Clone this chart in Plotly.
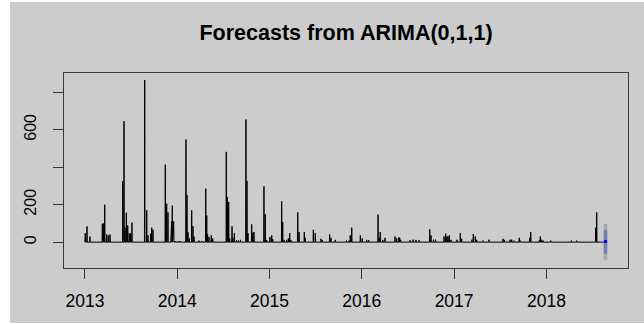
import plotly.graph_objects as go

# Daily series (decimal years); days not listed are zero.
series_start = 2013.0
series_end = 2018.632
obs_time = [
    2013.004, 2013.023, 2013.055,
    2013.189, 2013.199, 2013.215, 2013.236, 2013.254, 2013.272,
    2013.410, 2013.424, 2013.435, 2013.449, 2013.464, 2013.481, 2013.496, 2013.510,
    2013.648, 2013.670, 2013.684, 2013.713, 2013.724, 2013.738,
    2013.871, 2013.886, 2013.900, 2013.933, 2013.940, 2013.947, 2013.954, 2013.962,
    2013.982, 2014.009, 2014.030,
    2014.095, 2014.106, 2014.117, 2014.131, 2014.157, 2014.171, 2014.182, 2014.236, 2014.269,
    2014.309, 2014.320, 2014.330, 2014.345, 2014.369, 2014.385,
    2014.532, 2014.543, 2014.558, 2014.569, 2014.594, 2014.605, 2014.619, 2014.642, 2014.664, 2014.686,
    2014.745, 2014.756, 2014.767, 2014.807, 2014.818, 2014.832,
    2014.940, 2014.954, 2014.970, 2015.005, 2015.024, 2015.035,
    2015.132, 2015.143, 2015.157, 2015.186, 2015.204, 2015.219, 2015.233,
    2015.306, 2015.320, 2015.377, 2015.388, 2015.475, 2015.496, 2015.558, 2015.572,
    2015.652, 2015.666, 2015.713, 2015.834, 2015.861, 2015.875, 2015.891,
    2015.984, 2016.005, 2016.053, 2016.075,
    2016.176, 2016.190, 2016.200, 2016.227, 2016.251,
    2016.360, 2016.378, 2016.400, 2016.411, 2016.421,
    2016.522, 2016.555, 2016.587, 2016.620,
    2016.736, 2016.750, 2016.777, 2016.799,
    2016.891, 2016.909, 2016.923, 2016.934, 2016.948, 2016.966,
    2017.031, 2017.067, 2017.082, 2017.194, 2017.208, 2017.230, 2017.245,
    2017.313, 2017.378, 2017.530, 2017.546, 2017.606, 2017.624, 2017.649,
    2017.706, 2017.717, 2017.819, 2017.830, 2017.923, 2017.934, 2017.949, 2017.966,
    2018.047, 2018.270, 2018.328, 2018.534, 2018.545,
]
obs_value = [
    48, 84, 30,
    98, 100, 200, 41, 36, 41,
    325, 646, 77, 157, 89, 48, 46, 104,
    866, 170, 36, 45, 77, 66,
    414, 205, 159, 111, 111, 195, 111, 111,
    5, 4, 6,
    548, 252, 52, 20, 170, 85, 30, 8, 6,
    286, 143, 41, 27, 36, 20,
    482, 241, 214, 20, 84, 20, 48, 10, 8, 12,
    655, 326, 48, 95, 50, 54,
    298, 148, 10, 27, 36, 15,
    218, 107, 12, 12, 20, 48, 10,
    159, 54, 54, 23, 66, 48, 18, 10,
    41, 23, 12, 8, 8, 36, 77,
    36, 20, 12, 10,
    147, 23, 54, 12, 23,
    30, 20, 25, 23, 12,
    10, 13, 12, 10,
    68, 36, 13, 13,
    30, 45, 30, 30, 36, 12,
    13, 48, 18, 13, 43, 30, 12,
    8, 13, 18, 12, 13, 13, 8,
    23, 8, 23, 54, 10, 30, 13, 8,
    8, 8, 8, 77, 159,
]

# One-step forecast from ARIMA(0,1,1) with 80% / 95% intervals
fc_time = 2018.640
fc_mean = 3
fc_lo80, fc_hi80 = -62, 66
fc_lo95, fc_hi95 = -94, 98

x_ticks = [2013, 2014, 2015, 2016, 2017, 2018]
y_ticks = [0, 200, 400, 600, 800]
y_ticktext = ["0", "200", "", "600", ""]

# Expand the sparse daily observations into a line path over a zero baseline
day = 1.0 / 365.0
path_x, path_y = [series_start], [0]
for t, v in zip(obs_time, obs_value):
    path_x += [t - day, t, t + day]
    path_y += [0, v, 0]
path_x.append(series_end)
path_y.append(0)

FONT = "Liberation Sans, Arial, Helvetica, sans-serif"
BG = "#cccccc"
AXC = "#3a3a3a"

fig = go.Figure()
fig.add_trace(go.Scatter(x=path_x, y=path_y, mode="lines",
                         line=dict(color="black", width=1), hoverinfo="skip"))
fig.add_trace(go.Scatter(x=[fc_time, fc_time], y=[fc_lo95, fc_hi95], mode="lines",
                         line=dict(color="#a7a7ab", width=3.5)))
fig.add_trace(go.Scatter(x=[fc_time, fc_time], y=[fc_lo80, fc_hi80], mode="lines",
                         line=dict(color="#7181b3", width=3.5)))
fig.add_trace(go.Scatter(x=[fc_time], y=[fc_mean], mode="markers",
                         marker=dict(color="#0000ff", size=3.5)))

W, H = 644, 324
ML, MR, MT, MB = 64, 16, 73, 56
pw, ph = W - ML - MR, H - MT - MB


def px_x(p):
    return (p - ML) / pw


def px_y(p):
    return (H - MB - p) / ph


# white edge strips around the grey canvas
for x0, x1, y0, y1 in [(0, 10, 0, H), (0, W, 0, 2), (0, W, 323, H)]:
    fig.add_shape(type="rect", xref="paper", yref="paper",
                  x0=px_x(x0), x1=px_x(x1), y0=px_y(y1), y1=px_y(y0),
                  fillcolor="white", line=dict(width=0), layer="below")

fig.update_layout(
    width=W, height=H,
    margin=dict(l=ML, r=MR, t=MT, b=MB),
    paper_bgcolor=BG, plot_bgcolor=BG,
    showlegend=False,
    title=dict(text="<b>Forecasts from ARIMA(0,1,1)</b>",
               font=dict(family=FONT, size=21.5, color="black"),
               x=px_x(346), xref="paper", xanchor="center",
               y=1 - 32 / H, yref="container", yanchor="middle"),
    xaxis=dict(range=[2012.7736, 2018.884], tickvals=x_ticks,
               ticktext=[str(v) for v in x_ticks],
               showgrid=False, zeroline=False,
               showline=True, mirror=True, linecolor=AXC, linewidth=1.3,
               ticks="outside", ticklen=10, tickwidth=1.3, tickcolor=AXC,
               ticklabelstandoff=7,
               tickfont=dict(family=FONT, size=17.5, color="black")),
    yaxis=dict(range=[-138.2, 903.4], tickvals=y_ticks, ticktext=y_ticktext,
               showgrid=False, zeroline=False,
               showline=True, mirror=True, linecolor=AXC, linewidth=1.3,
               ticks="outside", ticklen=10, tickwidth=1.3, tickcolor=AXC,
               tickangle=-90, ticklabelstandoff=10,
               tickfont=dict(family=FONT, size=16, color="black")),
)

fig.write_html("out.html")
